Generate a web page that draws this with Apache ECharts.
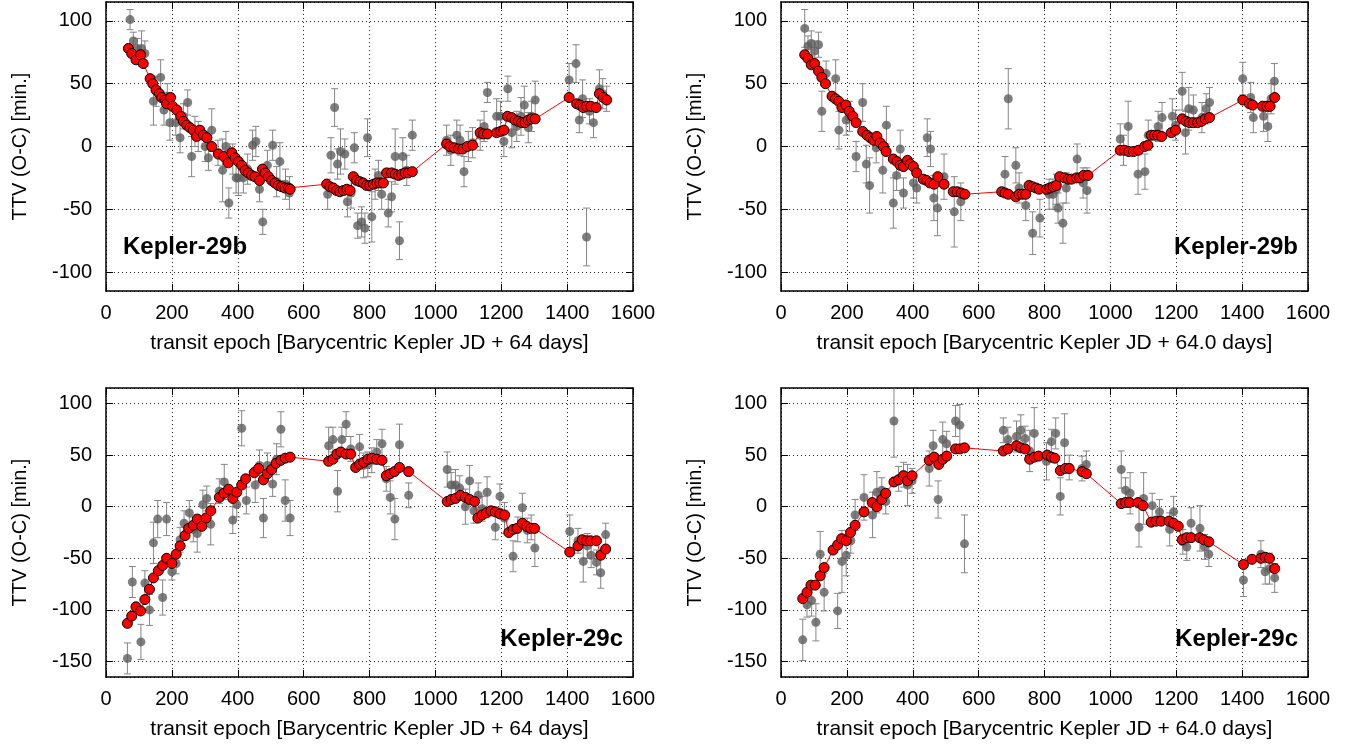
<!DOCTYPE html>
<html>
<head>
<meta charset="utf-8">
<script src="https://cdn.jsdelivr.net/npm/echarts@6/dist/echarts.min.js"></script>
<style>
  html, body { margin: 0; padding: 0; background: #fff; }
  #chart { width: 1360px; height: 746px; }
</style>
</head>
<body>
<div id="chart"></div>
<script>
// Kepler-29 TTV panels: observed transits [epoch, O-C, error] and model [epoch, O-C]

const tlObs = [
  [73,101,8],[83,84,7],[95,78,8],[108,78,14],[118,74,10],[144,36,19],[152,44,12],[166,55,14],[176,29,12],[186,40,10],
  [194,19,14],[212,19,10],[225,7,12],[235,24,10],[248,35,10],[260,-8,16],[270,12,12],[280,8,12],[301,0,12],[311,-9,10],
  [321,13,17],[340,-5,10],[354,-19,25],[364,0,12],[373,-45,12],[385,-10,12],[395,-25,12],[402,-25,14],[417,-25,12],[430,-18,12],
  [445,1,12],[455,4,12],[466,-34,10],[476,-60,10],[490,-15,12],[506,1,12],[518,-28,12],[528,-12,15],[545,-30,12],[557,-37,13],
  [673,-38,12],[683,-7,14],[694,31,15],[703,-14,12],[712,-4,18],[725,-6,12],[733,-44,12],[744,-37,12],[754,-1,12],[764,-63,10],
  [776,-60,12],[786,-65,12],[794,7,15],[807,-56,20],[817,-30,12],[827,-23,12],[837,-38,12],[857,-53,11],[867,-40,12],[878,-8,22],
  [891,-75,15],[901,-8,15],[913,-19,12],[930,9,12],[1034,5,12],[1047,-3,12],[1065,9,12],[1075,5,12],[1087,-20,12],[1100,0,12],
  [1113,3,12],[1136,9,12],[1148,16,12],[1158,43,8],[1186,24,14],[1198,24,12],[1208,4,12],[1220,46,10],[1232,11,12],[1247,16,12],
  [1260,24,15],[1270,33,15],[1282,15,12],[1292,24,12],[1303,37,15],[1406,53,13],[1427,66,15],[1437,21,10],[1447,38,15],[1459,-72,23],
  [1468,28,10],[1480,19,12],[1498,46,15],[1508,42,12],[1520,38,10]
];
const tlModel = [
  [68,78],[78,74],[91,69],[105,73],[113,66],[134,54],[142,50],[152,45],[162,42],[169,39],[179,37],[184,34],[196,39],[202,32],
  [215,29],[227,24],[235,20],[245,17],[255,15],[265,13],[275,8],[285,13],[296,9],[306,7],[321,0],[341,-6],[358,-8],[371,-13],
  [382,-5],[392,-9],[402,-12],[412,-15],[422,-19],[432,-21],[442,-23],[452,-24],[466,-27],[475,-18],[483,-21],[493,-24],[503,-27],
  [513,-29],[523,-31],[533,-32],[543,-33],[554,-33],[559,-34],
  [670,-30],[680,-32],[690,-33],[700,-35],[710,-36],[721,-35],[731,-34],[741,-35],[751,-24],[761,-27],[771,-28],[781,-29],
  [791,-31],[801,-31],[812,-30],[822,-29],[832,-29],[842,-29],[852,-21],[867,-21],[878,-22],[888,-23],[898,-22],[908,-21],
  [918,-21],[930,-20],
  [1034,2],[1044,0],[1057,-1],[1070,-2],[1083,-2],[1097,0],[1113,1],[1136,11],[1146,10],[1158,10],[1186,11],[1198,12],[1208,13],
  [1219,24],[1232,23],[1242,21],[1252,20],[1262,19],[1272,19],[1282,21],[1292,22],[1303,22],
  [1406,39],[1429,34],[1439,33],[1449,31],[1459,32],[1472,32],[1488,31],[1498,42],[1510,39],[1520,37]
];

const trObs = [
  [72,94,15],[82,80,8],[92,82,10],[102,76,8],[114,81,10],[124,28,16],[137,58,10],[166,54,15],[176,13,15],[198,21,12],
  [208,24,12],[228,-8,12],[248,35,15],[259,-14,15],[269,-31,22],[289,-1,12],[309,-19,18],[320,17,15],[341,-45,20],[351,-23,12],
  [362,-2,15],[372,-37,12],[402,-29,12],[412,-33,12],[444,7,15],[454,-2,14],[464,-41,18],[475,-49,22],[495,-24,18],[526,-52,28],
  [546,-44,15],[680,-22,14],[690,38,24],[713,-15,14],[723,-33,12],[743,-47,12],[764,-69,17],[786,-57,15],[814,-38,12],[826,-38,12],
  [836,-34,12],[841,-49,12],[856,-61,16],[866,-33,12],[899,-10,12],[917,-29,12],[929,-35,18],[1030,6,12],[1040,-3,12],[1054,16,20],
  [1084,-22,16],[1105,-20,14],[1115,9,12],[1145,16,12],[1157,23,12],[1188,24,14],[1198,17,12],[1218,44,15],[1228,11,17],[1238,30,17],
  [1252,29,12],[1278,23,12],[1291,30,12],[1301,35,12],[1402,54,13],[1426,39,12],[1434,23,12],[1465,24,12],[1478,16,12],[1488,38,12],
  [1498,52,14]
];
const trModel = [
  [72,73],[82,70],[92,65],[102,66],[114,60],[124,55],[135,50],[155,40],[165,38],[175,36],[185,31],[197,33],[207,28],[218,24],
  [228,19],[248,12],[261,9],[271,7],[281,5],[291,8],[301,3],[311,0],[319,-4],[341,-10],[352,-12],[362,-15],[372,-16],[384,-11],
  [392,-14],[402,-16],[412,-21],[432,-26],[442,-27],[452,-29],[465,-30],[476,-24],[495,-30],[523,-36],[535,-36],[547,-37],[558,-38],
  [670,-36],[680,-37],[690,-38],[713,-40],[723,-38],[733,-38],[743,-38],[753,-31],[763,-32],[774,-33],[784,-34],[806,-34],
  [816,-33],[826,-32],[836,-31],[846,-24],[861,-25],[872,-26],[882,-26],[897,-25],[907,-25],[919,-23],[932,-23],
  [1030,-3],[1043,-3],[1056,-4],[1070,-4],[1085,-3],[1104,0],[1114,1],[1124,9],[1134,9],[1144,9],[1156,8],[1185,11],[1198,13],
  [1218,22],[1230,20],[1240,19],[1252,19],[1265,19],[1276,20],[1288,22],[1301,23],
  [1402,37],[1422,34],[1432,33],[1462,32],[1475,32],[1485,32],[1499,39]
];

const blObs = [
  [65,-147,15],[80,-73,15],[106,-131,17],[118,-74,12],[132,-100,15],[144,-35,20],[157,-12,18],[172,-88,17],[184,-12,16],[200,-63,8],
  [213,-55,10],[225,-32,12],[237,-16,12],[253,-6,12],[265,-22,12],[277,-26,18],[294,2,14],[306,8,12],[318,-17,20],[344,15,12],
  [359,24,17],[385,-13,13],[397,2,12],[412,76,17],[426,6,13],[453,21,17],[466,40,15],[478,-11,19],[490,40,12],[506,22,12],
  [518,46,15],[531,75,17],[544,6,20],[559,-11,17],[676,59,18],[689,65,12],[703,15,20],[716,65,12],[729,80,12],[743,56,12],
  [770,58,12],[782,40,12],[795,41,12],[807,45,12],[822,53,12],[838,61,14],[851,27,12],[863,9,16],[877,-12,20],[891,60,20],
  [919,11,12],[1036,36,17],[1048,21,12],[1061,21,15],[1074,18,12],[1091,0,17],[1104,25,15],[1117,-4,12],[1130,11,12],[1142,-2,12],
  [1157,14,15],[1182,-20,12],[1196,10,12],[1210,-11,15],[1236,-48,15],[1250,-22,12],[1264,-1,14],[1279,-23,12],[1291,-20,12],[1302,-40,18],
  [1408,-24,16],[1433,-33,12],[1449,-53,20],[1461,-38,12],[1473,-47,12],[1489,-54,12],[1502,-64,15],[1517,-27,11]
];
const blModel = [
  [65,-113],[78,-106],[91,-97],[105,-101],[118,-90],[132,-80],[144,-69],[159,-62],[172,-57],[184,-50],[200,-55],[213,-46],
  [225,-38],[240,-28],[251,-21],[265,-18],[277,-12],[291,-19],[304,-11],[318,-4],[344,9],[358,13],[372,17],[385,8],[397,14],
  [412,21],[424,27],[450,33],[463,37],[478,26],[490,32],[503,36],[516,42],[531,45],[544,47],[559,48],
  [676,44],[689,46],[701,51],[713,53],[729,51],[743,51],[758,38],[770,41],[782,43],[795,46],[807,47],[822,46],[838,45],
  [851,30],[863,32],[876,34],[891,38],[919,34],
  [1036,5],[1048,7],[1061,8],[1076,11],[1091,9],[1104,7],[1119,5],[1129,-11],[1142,-8],[1155,-6],[1169,-4],[1182,-5],
  [1196,-7],[1210,-8],[1223,-25],[1236,-22],[1248,-21],[1264,-16],[1277,-19],[1289,-21],[1301,-21],
  [1408,-44],[1433,-38],[1446,-32],[1459,-33],[1471,-33],[1489,-33],[1502,-47],[1517,-41]
];

const brObs = [
  [66,-129,20],[79,-95,12],[93,-91,15],[106,-112,18],[119,-46,22],[131,-83,18],[172,-101,17],[185,-53,30],[198,-47,20],[212,-33,12],
  [225,-8,15],[252,9,22],[278,-8,22],[291,14,20],[306,16,12],[318,5,12],[343,83,35],[357,27,12],[372,31,12],[384,21,20],
  [398,25,12],[450,37,17],[462,59,15],[477,7,18],[491,65,17],[503,61,12],[530,83,15],[543,79,20],[557,-36,28],[675,74,12],
  [689,65,12],[715,68,15],[728,74,15],[741,66,12],[755,54,20],[769,71,25],[806,44,18],[821,63,12],[834,71,15],[848,10,18],
  [861,62,28],[875,38,12],[914,37,12],[927,41,13],[1033,36,18],[1046,16,12],[1060,13,20],[1087,-20,19],[1101,8,25],[1127,1,12],
  [1149,-5,12],[1180,-22,16],[1192,-5,15],[1220,-34,12],[1232,-39,13],[1245,-16,15],[1272,-21,22],[1286,-39,12],[1299,-46,12],[1404,-71,16],
  [1457,-46,13],[1470,-63,12],[1483,-60,15],[1499,-69,14]
];
const brModel = [
  [66,-89],[79,-83],[91,-76],[104,-76],[119,-67],[131,-59],[158,-42],[172,-37],[184,-31],[198,-33],[211,-25],[225,-18],
  [252,-5],[277,4],[291,0],[306,7],[318,13],[343,24],[357,26],[372,30],[384,25],[398,30],[450,45],[465,48],[479,41],[491,46],
  [503,49],[530,56],[543,56],[557,57],
  [675,54],[689,56],[715,59],[728,57],[741,56],[755,46],[769,48],[782,49],[808,50],[821,48],[831,47],[848,35],[863,37],
  [875,37],[914,34],[927,32],
  [1033,3],[1046,4],[1058,4],[1084,4],[1099,1],[1124,-15],[1139,-14],[1154,-14],[1178,-14],[1192,-16],[1206,-19],[1218,-32],
  [1232,-30],[1245,-30],[1271,-30],[1283,-32],[1299,-34],
  [1404,-56],[1430,-51],[1457,-50],[1470,-49],[1483,-50],[1499,-60]
];

const planetNames = ['Kepler-29b', 'Kepler-29b', 'Kepler-29c', 'Kepler-29c'];
const xTitles = [
  'transit epoch [Barycentric Kepler JD + 64 days]',
  'transit epoch [Barycentric Kepler JD + 64.0 days]',
  'transit epoch [Barycentric Kepler JD + 64 days]',
  'transit epoch [Barycentric Kepler JD + 64.0 days]'
];
const yRanges = [[-115, 115], [-115, 115], [-165, 115], [-165, 115]];
const yTitle = 'TTV (O-C) [min.]';

const FONT = '"Liberation Sans", Arial, Helvetica, sans-serif';

const panels = [
  { obs: tlObs, model: tlModel, left: 106, top: 2,   lx: 123,  ly: 247, align: 'left' },
  { obs: trObs, model: trModel, left: 781, top: 2,   lx: 1298, ly: 247, align: 'right' },
  { obs: blObs, model: blModel, left: 106, top: 388, lx: 623,  ly: 639, align: 'right' },
  { obs: brObs, model: brModel, left: 781, top: 388, lx: 1298, ly: 639, align: 'right' }
];

const frame = { color: '#000', width: 1.5 };
const tickStyle = { inside: true, length: 7, lineStyle: { color: '#000', width: 1 } };
const dotted = { show: true, lineStyle: { color: '#222', width: 1, type: [1, 3] } };
const plain = v => String(v);

// error bar with small caps
function renderErr(params, api) {
  const x = api.value(0), y = api.value(1), e = api.value(2);
  const hi = api.coord([x, y + e]);
  const lo = api.coord([x, y - e]);
  const cap = 3.5;
  const style = { stroke: '#858585', lineWidth: 1, fill: null };
  return {
    type: 'group',
    children: [
      { type: 'line', shape: { x1: hi[0], y1: hi[1], x2: lo[0], y2: lo[1] }, style },
      { type: 'line', shape: { x1: hi[0] - cap, y1: hi[1], x2: hi[0] + cap, y2: hi[1] }, style },
      { type: 'line', shape: { x1: lo[0] - cap, y1: lo[1], x2: lo[0] + cap, y2: lo[1] }, style }
    ]
  };
}

const grid = [], xAxis = [], yAxis = [], series = [], graphic = [];

panels.forEach((p, i) => {
  grid.push({ left: p.left, top: p.top, width: 527, height: 289, containLabel: false, outerBoundsMode: 'none' });

  xAxis.push({
    gridIndex: i, type: 'value', min: 0, max: 1600, interval: 200, position: 'bottom',
    name: xTitles[i], nameLocation: 'middle', nameGap: 42,
    nameTextStyle: { fontSize: 21, color: '#000', fontFamily: FONT },
    axisLine: { onZero: false, lineStyle: frame },
    axisTick: tickStyle,
    axisLabel: { fontSize: 20, color: '#000', fontFamily: FONT, margin: 12, formatter: plain },
    splitLine: dotted
  });
  yAxis.push({
    gridIndex: i, type: 'value', min: yRanges[i][0], max: yRanges[i][1], splitNumber: 5, position: 'left',
    name: yTitle, nameLocation: 'middle', nameGap: 76,
    nameTextStyle: { fontSize: 20, color: '#000', fontFamily: FONT },
    axisLine: { show: true, onZero: false, lineStyle: frame },
    axisTick: tickStyle,
    axisLabel: { fontSize: 20, color: '#000', fontFamily: FONT, margin: 14, formatter: plain, showMinLabel: false, showMaxLabel: false },
    splitLine: dotted
  });
});

// mirrored frame sides with inward ticks
panels.forEach((p, i) => {
  xAxis.push({
    gridIndex: i, type: 'value', min: 0, max: 1600, interval: 200, position: 'top',
    axisLine: { onZero: false, lineStyle: frame }, axisTick: tickStyle,
    axisLabel: { show: false }, splitLine: { show: false }
  });
  yAxis.push({
    gridIndex: i, type: 'value', min: yRanges[i][0], max: yRanges[i][1], splitNumber: 5, position: 'right',
    axisLine: { show: true, onZero: false, lineStyle: frame }, axisTick: tickStyle,
    axisLabel: { show: false }, splitLine: { show: false }
  });
});

panels.forEach((p, i) => {
  series.push({
    type: 'custom', xAxisIndex: i, yAxisIndex: i, data: p.obs,
    encode: { x: 0, y: 1 }, renderItem: renderErr, clip: true, z: 1, silent: true
  });
  series.push({
    type: 'scatter', xAxisIndex: i, yAxisIndex: i, data: p.obs.map(d => [d[0], d[1]]),
    symbol: 'circle', symbolSize: 9, itemStyle: { color: '#5e5e5e' }, z: 2, silent: true
  });
  series.push({
    type: 'line', xAxisIndex: i, yAxisIndex: i, data: p.model,
    symbol: 'circle', symbolSize: 10, showSymbol: true, showAllSymbol: true,
    lineStyle: { color: '#ff0000', width: 1 },
    itemStyle: { color: '#ff0000', borderColor: '#000', borderWidth: 1 },
    z: 3, silent: true
  });
  graphic.push({
    type: 'text', x: p.lx, y: p.ly, z: 10,
    style: { text: planetNames[i], font: 'bold 24px ' + FONT, fill: '#000', align: p.align, verticalAlign: 'middle' }
  });
});

const chart = echarts.init(document.getElementById('chart'), null, { renderer: 'canvas' });
chart.setOption({
  animation: false,
  backgroundColor: '#fff',
  grid, xAxis, yAxis, series, graphic
});
</script>
</body>
</html>
